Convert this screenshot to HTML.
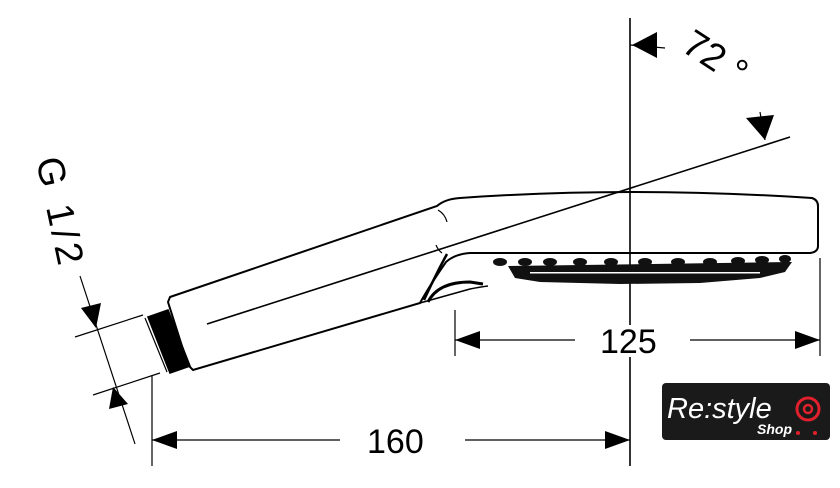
<!DOCTYPE html>
<html><head><style>body{margin:0;background:#fff}svg{display:block}</style></head><body>
<svg width="840" height="488" viewBox="0 0 840 488" xmlns="http://www.w3.org/2000/svg" font-family="Liberation Sans, sans-serif">
<g stroke="#000" fill="none" stroke-width="1.6">
<line x1="630" y1="18" x2="630" y2="325"/>
<line x1="630" y1="357" x2="630" y2="466"/>
<line x1="207" y1="324" x2="790" y2="137"/>
<path d="M170,297 L437,206 Q445,199 460,198 Q630,186 812,198 Q818,200 818,206 L818,246 Q818,252 810,253 L470,253 Q455,254 446,262 Q430,285 420,303 L193,370 L188,365 L168,302 Z" stroke-width="2"/>
<path d="M420,303 L470,289 Q480,287 488,286" stroke-width="1.6"/>
<path d="M428,302 Q438,282 470,282 L483,284" stroke-width="3"/>
<path d="M447,254 Q437,272 424,300" stroke-width="2.5"/>
<path d="M438,210 Q445,214 447,222" stroke-width="1.2"/>
<path d="M436,245 Q438,250 442,253" stroke-width="1.2"/>
<path d="M148,317 L168,310 L190,366 L170,373 Z" fill="#000"/>
<line x1="145" y1="318" x2="167" y2="372" stroke-width="1.2"/>
<line x1="75" y1="337" x2="143" y2="315" stroke-width="1.2"/>
<line x1="93" y1="395" x2="160" y2="373" stroke-width="1.2"/>
<line x1="80" y1="276" x2="135" y2="444" stroke-width="1.2"/>
<line x1="455" y1="310" x2="455" y2="356" stroke-width="1.2"/>
<line x1="820" y1="258" x2="820" y2="356" stroke-width="1.2"/>
<line x1="455" y1="340" x2="575" y2="340" stroke-width="1.2"/>
<line x1="690" y1="340" x2="820" y2="340" stroke-width="1.2"/>
<line x1="152" y1="375" x2="152" y2="466" stroke-width="1.2"/>
<line x1="152" y1="440" x2="340" y2="440" stroke-width="1.2"/>
<line x1="465" y1="440" x2="630" y2="440" stroke-width="1.2"/>
<line x1="630" y1="45" x2="665" y2="48" stroke-width="1.2"/>
<line x1="760" y1="112" x2="765" y2="140" stroke-width="1.2"/>
</g>
<g fill="#111">
<ellipse cx="500" cy="262" rx="7" ry="4"/><ellipse cx="525" cy="262" rx="7" ry="4"/><ellipse cx="550" cy="262" rx="7" ry="4"/><ellipse cx="580" cy="262" rx="7" ry="4"/><ellipse cx="611" cy="262" rx="7" ry="4"/><ellipse cx="645" cy="262" rx="7" ry="4"/><ellipse cx="678" cy="262" rx="7" ry="4"/><ellipse cx="710" cy="262" rx="7" ry="4"/><ellipse cx="738" cy="261" rx="7" ry="4"/><ellipse cx="762" cy="260" rx="7" ry="4"/><ellipse cx="785" cy="259" rx="6" ry="4"/>
<path d="M508,266 L792,262 L785,272 L760,278 L700,283 L620,284 L540,282 L515,278 Z"/>
</g>
<g fill="#fff"><rect x="530" y="272" width="230" height="1.5"/></g>
<g fill="#000">
<polygon points="455,340 480,331 480,349"/>
<polygon points="820,340 795,331 795,349"/>
<polygon points="152,440 177,431 177,449"/>
<polygon points="630,440 605,431 605,449"/>
<polygon points="96,328 81,308 101,303"/>
<polygon points="113,387 109,409 128,404"/>
<polygon points="632,45 657,32 657,58"/>
<polygon points="765,140 746,118 774,115"/>
</g>
<g font-size="34" fill="#000">
<text x="600" y="353">125</text>
<text x="367" y="453">160</text>
<text font-size="38" transform="translate(680,50) rotate(33)">72 °</text>
<text font-size="38" letter-spacing="4" transform="translate(36,160) rotate(78)">G 1/2</text>
</g>
<rect x="662" y="383" width="168" height="57" rx="4" fill="#1a1a1a"/>
<text x="667" y="418" font-size="29" font-style="italic" fill="#fff">Re:style</text>
<text x="757" y="434" font-size="14" font-style="italic" font-weight="bold" fill="#fff">Shop</text>
<circle cx="808" cy="409" r="11" fill="none" stroke="#e0202a" stroke-width="3"/>
<circle cx="808" cy="409" r="4" fill="none" stroke="#e0202a" stroke-width="2.5"/>
<circle cx="798" cy="433" r="2" fill="#e0202a"/><circle cx="815" cy="433" r="2" fill="#e0202a"/>
</svg>
</body></html>
